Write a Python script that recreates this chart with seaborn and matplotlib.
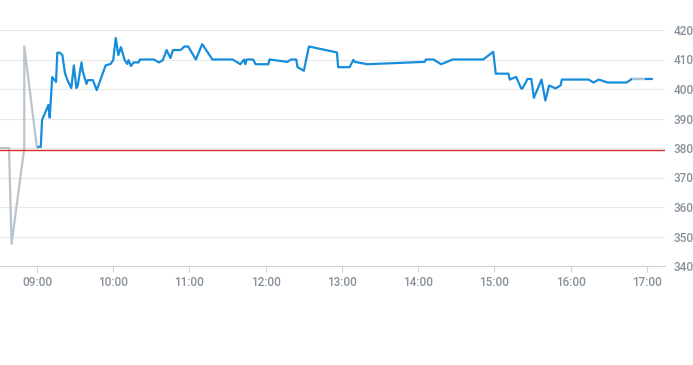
# intraday price line, pre-market in gray, reference level in red

import matplotlib.pyplot as plt
import matplotlib.dates as mdates
import pandas as pd
import seaborn as sb

# pre-market series
pre_times = ['08:31', '08:38', '08:40', '08:50', '08:50', '09:00']
pre_values = [380, 380, 347.5, 380, 414.5, 380]

# regular session series
times = ['09:01', '09:03', '09:04', '09:09', '09:10', '09:12', '09:13', '09:15', '09:16', '09:18',
         '09:20', '09:22', '09:24', '09:27', '09:29', '09:31', '09:32', '09:35', '09:36', '09:39',
         '09:40', '09:44', '09:47', '09:54', '09:58', '10:00', '10:02', '10:04', '10:06', '10:09',
         '10:11', '10:12', '10:14', '10:16', '10:20', '10:21', '10:32', '10:36', '10:39', '10:42',
         '10:45', '10:47', '10:53', '10:56', '10:59', '11:05', '11:10', '11:15', '11:18', '11:34',
         '11:40', '11:43', '11:44', '11:45', '11:50', '11:52', '12:02', '12:03', '12:17', '12:20',
         '12:24', '12:25', '12:30', '12:34', '12:56', '12:57', '13:06', '13:09', '13:10', '13:20',
         '14:05', '14:06', '14:12', '14:18', '14:27', '14:51', '14:59', '15:01', '15:11', '15:12',
         '15:17', '15:21', '15:22', '15:26', '15:29', '15:31', '15:37', '15:40', '15:43', '15:48',
         '15:52', '15:53', '16:14', '16:18', '16:22', '16:29', '16:44', '16:48', '16:58', '17:04']
values = [380.4, 380.4, 389.5, 394.6, 390.3, 404.0, 403.5, 402.4, 412.3, 412.3,
          411.5, 405.4, 403.0, 400.3, 408.0, 400.3, 401.0, 409.0, 406.0, 401.7,
          403.0, 403.0, 399.6, 408.0, 408.5, 409.8, 417.3, 411.5, 414.2, 409.8,
          408.5, 409.8, 407.8, 409.0, 409.0, 410.0, 410.0, 409.0, 409.8, 413.2,
          410.5, 413.2, 413.2, 414.4, 414.4, 410.0, 415.2, 412.0, 410.0, 410.0,
          408.4, 410.0, 408.4, 410.0, 410.0, 408.4, 408.4, 410.0, 409.2, 410.0,
          410.0, 407.4, 406.2, 414.4, 412.4, 407.4, 407.4, 409.9, 409.2, 408.4,
          409.2, 410.0, 410.0, 408.4, 410.0, 410.0, 412.6, 405.2, 405.2, 403.2,
          404.1, 400.2, 400.2, 403.4, 403.4, 397.0, 403.2, 396.1, 401.2, 400.2,
          401.2, 403.2, 403.2, 402.2, 403.2, 402.2, 402.2, 403.4, 403.4, 403.4]

# after-hours overlay
post_times = ['16:49', '16:58']
post_values = [403.4, 403.4]

ref_level = 379.3
yticks = [340, 350, 360, 370, 380, 390, 400, 410, 420]
xtick_hours = ['09:00', '10:00', '11:00', '12:00', '13:00', '14:00', '15:00', '16:00', '17:00']

day = '2024-01-02 '
def to_dt(ts):
    return pd.to_datetime([day + t for t in ts])

pre = pd.DataFrame({'time': to_dt(pre_times), 'price': pre_values})
main = pd.DataFrame({'time': to_dt(times), 'price': values})
post = pd.DataFrame({'time': to_dt(post_times), 'price': post_values})

sb.set_style('white')
plt.rcParams['font.family'] = ['Roboto', 'DejaVu Sans']

fig = plt.figure(figsize=(6.93, 3.65), dpi=100)
ax = fig.add_axes([0, 1 - 266 / 365, 665 / 693, 236 / 365])

for y in yticks:
    ax.axhline(y, color='#e6e8ea', linewidth=0.8, zorder=0)

sb.lineplot(data=pre, x='time', y='price', ax=ax, color='#b9c4cc', linewidth=1.6,
            estimator=None, sort=False)
sb.lineplot(data=main, x='time', y='price', ax=ax, color='#168ddc', linewidth=1.6,
            estimator=None, sort=False)
sb.lineplot(data=post, x='time', y='price', ax=ax, color='#a9c3d6', linewidth=1.6,
            estimator=None, sort=False)
ax.axhline(ref_level, color='#d9302c', linewidth=1.0, zorder=3)

ax.set_ylim(340, 420)
ax.set_xlim(pd.Timestamp(day + '08:30:54'), pd.Timestamp(day + '17:14:10'))

ax.set_xticks(to_dt(xtick_hours))
ax.xaxis.set_major_formatter(mdates.DateFormatter('%H:%M'))
ax.set_yticks(yticks)
ax.yaxis.tick_right()
ax.tick_params(axis='y', length=0, pad=6, labelsize=8.5, labelcolor='#87919b')
ax.tick_params(axis='x', length=4, width=0.8, color='#ccd2d8', pad=3, labelsize=8.5,
               labelcolor='#87919b', bottom=True)
for lab in ax.get_xticklabels() + ax.get_yticklabels():
    lab.set_fontweight('medium')
ax.set_xlabel('')
ax.set_ylabel('')

for side in ['top', 'left', 'right']:
    ax.spines[side].set_visible(False)
ax.spines['bottom'].set_color('#ccd2d8')
ax.spines['bottom'].set_linewidth(0.8)

fig.savefig('out.png', dpi=100)
